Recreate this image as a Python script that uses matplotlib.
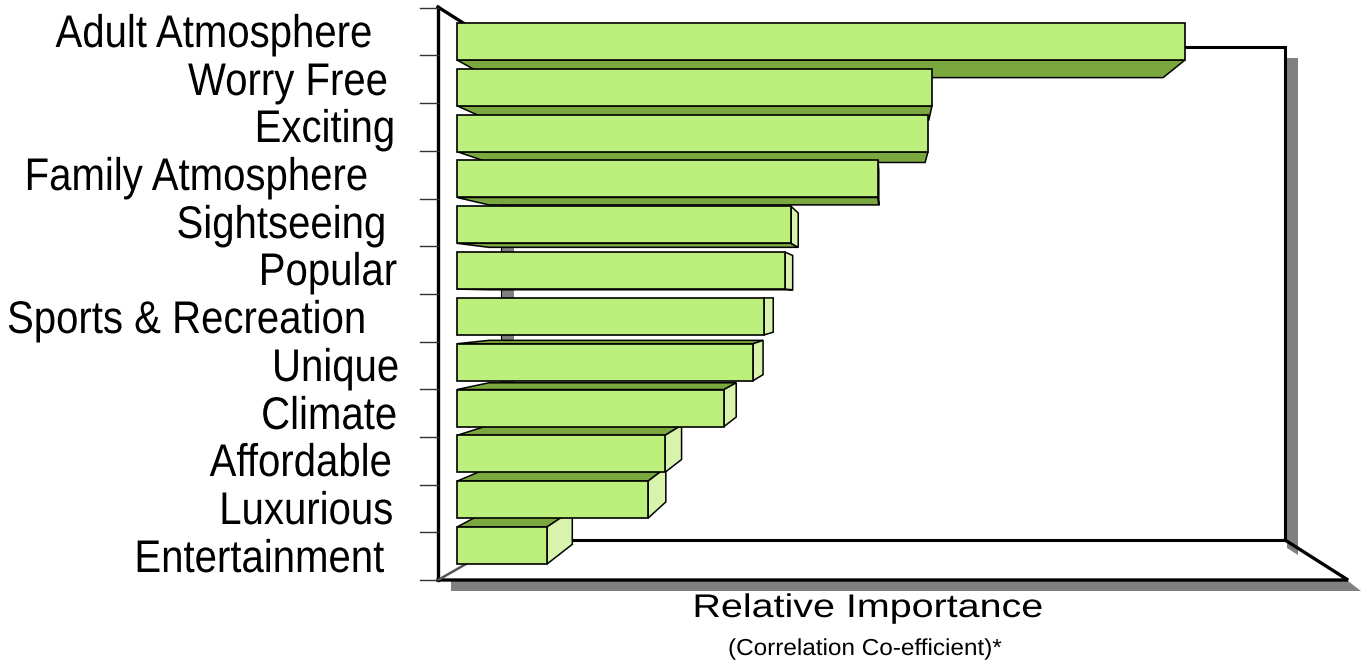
import matplotlib
matplotlib.use('Agg')
import matplotlib.pyplot as plt
from matplotlib.patches import Polygon
from matplotlib.patheffects import AbstractPathEffect
from matplotlib.transforms import Affine2D

plt.rcParams['font.family'] = ['Liberation Sans', 'DejaVu Sans']

categories = ['Adult Atmosphere', 'Worry Free', 'Exciting', 'Family Atmosphere',
              'Sightseeing', 'Popular', 'Sports & Recreation', 'Unique',
              'Climate', 'Affordable', 'Luxurious', 'Entertainment']
importance = [0.728, 0.475, 0.471, 0.421, 0.334, 0.328,
              0.307, 0.296, 0.267, 0.208, 0.191, 0.090]

# where each category label ends and sits, in pixels
label_right = [372, 388, 395, 368, 386, 397, 366, 399, 397, 392, 393, 384]
label_base = [47, 95, 142, 190, 238, 285, 333, 381, 429, 476, 524, 572]
tick_y = [8, 55, 103, 151, 199, 246, 294, 342, 389, 437, 485, 532, 580]

# layout of the data scale on the canvas
X0, PX_PER_UNIT = 457, 1000
Y0, PX_PER_ROW = 41.5, 45.82
HALF_BAR = 0.404
DEPTH = 0.926  # how far back the rear of a bar sits, towards the vanishing point
HEIGHT_PX = 660

FRONT = '#bdef7d'
DARK = '#7ba83e'
LIGHT = '#d8f3ab'
SHADOW = '#808080'


class TallGlyphs(AbstractPathEffect):
    """Scale glyphs vertically about their baseline (given in pixels from the top)."""

    def __init__(self, base, sy):
        super().__init__()
        self.base = HEIGHT_PX - base
        self.sy = sy

    def draw_path(self, renderer, gc, tpath, affine, rgbFace=None):
        tall = Affine2D().translate(0, -self.base).scale(1, self.sy).translate(0, self.base)
        renderer.draw_path(gc, tpath, affine + tall, rgbFace)


def fx(px):
    return (px - X0) / PX_PER_UNIT


def fy(px):
    return (px - Y0) / PX_PER_ROW


VP_X, VP_Y = fx(889), fy(298)


def back(x, y):
    return VP_X + (x - VP_X) * DEPTH, VP_Y + (y - VP_Y) * DEPTH


def box(ax, x, y, z):
    """One 3D bar: the side faces that can be seen, then the front."""
    top, bot = y - HALF_BAR, y + HALF_BAR
    if bot < VP_Y:
        pts = [(0, bot), (x, bot), back(x, bot), back(0, bot)]
        ax.add_patch(Polygon(pts, fc=DARK, ec='black', lw=1.1, zorder=z))
    if top > VP_Y:
        pts = [(0, top), (x, top), back(x, top), back(0, top)]
        ax.add_patch(Polygon(pts, fc=DARK, ec='black', lw=1.1, zorder=z))
    if x < VP_X:
        pts = [(x, top), back(x, top), back(x, bot), (x, bot)]
        ax.add_patch(Polygon(pts, fc=LIGHT, ec='black', lw=1.1, zorder=z))
    pts = [(0, top), (x, top), (x, bot), (0, bot)]
    ax.add_patch(Polygon(pts, fc=FRONT, ec='black', lw=1.2, zorder=z + 0.5))


def px_line(ax, xs, ys, **kw):
    ax.plot([fx(v) for v in xs], [fy(v) for v in ys], color=kw.pop('color', 'black'),
            solid_capstyle='projecting', solid_joinstyle='miter', **kw)


def main():
    fig = plt.figure(figsize=(13.66, HEIGHT_PX / 100), dpi=100)
    ax = fig.add_axes([0, 0, 1, 1])
    ax.set_xlim(fx(0), fx(1366))
    ax.set_ylim(fy(HEIGHT_PX), fy(0))
    ax.axis('off')

    # drop shadows behind the walls and floor
    shadow = [(1287, 58), (1298, 58), (1298, 555), (1287, 548)]
    ax.add_patch(Polygon([(fx(a), fy(b)) for a, b in shadow], fc=SHADOW, ec='none', zorder=1))
    floor = [(451, 581), (1348, 581), (1361, 591), (451, 591)]
    ax.add_patch(Polygon([(fx(a), fy(b)) for a, b in floor], fc=SHADOW, ec='none', zorder=1))
    ax.add_patch(Polygon([(fx(a), fy(b)) for a, b in
                          [(501, 58), (514, 58), (514, 540), (501, 540)]],
                         fc=SHADOW, ec='none', zorder=1))
    px_line(ax, [501, 501], [58, 540], lw=0.8, zorder=1.5)

    # back wall and floor outline
    px_line(ax, [500, 1285, 1285, 500], [47, 47, 540, 540], lw=2.2, zorder=2)
    px_line(ax, [1285, 1348, 438], [540, 580, 580], lw=2.4, zorder=2)
    px_line(ax, [438, 438], [7, 580], lw=2.4, zorder=2)
    px_line(ax, [438, 464], [7, 23.5], lw=2.4, zorder=2)
    px_line(ax, [438, 466], [580, 564], lw=1.8, color='#555555', zorder=2)

    for t in tick_y:
        px_line(ax, [420, 438], [t, t], lw=1.0, color='#333333', zorder=2)

    # nearest bars go last so they cover the ones further from the middle
    order = sorted(range(len(importance)), key=lambda i: -abs(i - VP_Y))
    for z, i in enumerate(order):
        box(ax, importance[i], i, 3 + z)

    for name, right, base in zip(categories, label_right, label_base):
        ax.text(fx(right), fy(base), name, ha='right', va='baseline',
                fontsize=28.9, color='black', zorder=20,
                path_effects=[TallGlyphs(base, 1.14)])

    ax.text(fx(867.5), fy(617), 'Relative Importance', ha='center', va='baseline',
            fontsize=28.4, color='black', zorder=20, path_effects=[TallGlyphs(617, 0.83)])
    ax.text(fx(864.5), fy(655), '(Correlation Co-efficient)*', ha='center', va='baseline',
            fontsize=17.5, color='black', zorder=20, path_effects=[TallGlyphs(655, 0.95)])

    fig.savefig('out.png', dpi=100)


if __name__ == "__main__":
    main()
